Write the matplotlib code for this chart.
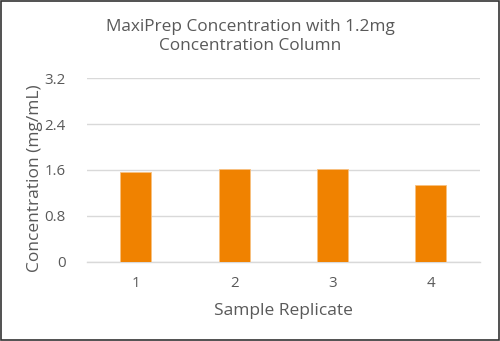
import matplotlib
matplotlib.use("Agg")
import matplotlib.pyplot as plt
from matplotlib.patches import Rectangle

replicates = ["1", "2", "3", "4"]
concentration = [1.56, 1.61, 1.62, 1.33]
y_ticks = [0, 0.8, 1.6, 2.4, 3.2]
y_tick_labels = ["0", "0.8", "1.6", "2.4", "3.2"]

plt.rcParams["font.family"] = ["Open Sans", "DejaVu Sans"]
text_color = "#595959"

fig = plt.figure(figsize=(5.0, 3.41), dpi=100)
ax = fig.add_axes([0.1734, 0.2326, 0.9600 - 0.1734, 0.7704 - 0.2326])

x = list(range(len(replicates)))
ax.bar(x, concentration, width=0.315, color="#F08200", edgecolor="#F8C080",
       linewidth=0.6, zorder=3)

ax.set_xlim(-0.5, len(replicates) - 0.5)
ax.set_ylim(0, 3.2)
ax.set_yticks(y_ticks)
ax.set_yticklabels(y_tick_labels)
ax.set_xticks(x)
ax.set_xticklabels(replicates)

ax.grid(axis="y", color="#D9D9D9", linewidth=1.0, zorder=0)
for side in ["top", "right", "left"]:
    ax.spines[side].set_visible(False)
ax.spines["bottom"].set_color("#D9D9D9")
ax.spines["bottom"].set_linewidth(1.0)
ax.tick_params(axis="both", length=0, labelsize=10.8, labelcolor=text_color)
ax.tick_params(axis="y", pad=15)
ax.tick_params(axis="x", pad=10)

ax.set_xlabel("Sample Replicate", fontsize=12.5, color=text_color, labelpad=9)
ax.set_ylabel("Concentration (mg/mL)", fontsize=12.5, color=text_color, labelpad=0)
ax.yaxis.set_label_coords(-0.112, 0.455)

fig.text(0.5, 0.893, "MaxiPrep Concentration with 1.2mg\nConcentration Column",
         ha="center", va="center", fontsize=12.4, color=text_color, linespacing=1.25)

fig.patches.append(Rectangle((0.002, 0.003), 0.996, 0.994, transform=fig.transFigure,
                             fill=False, edgecolor="#333333", linewidth=1.2))

fig.savefig("out.png", dpi=100)
